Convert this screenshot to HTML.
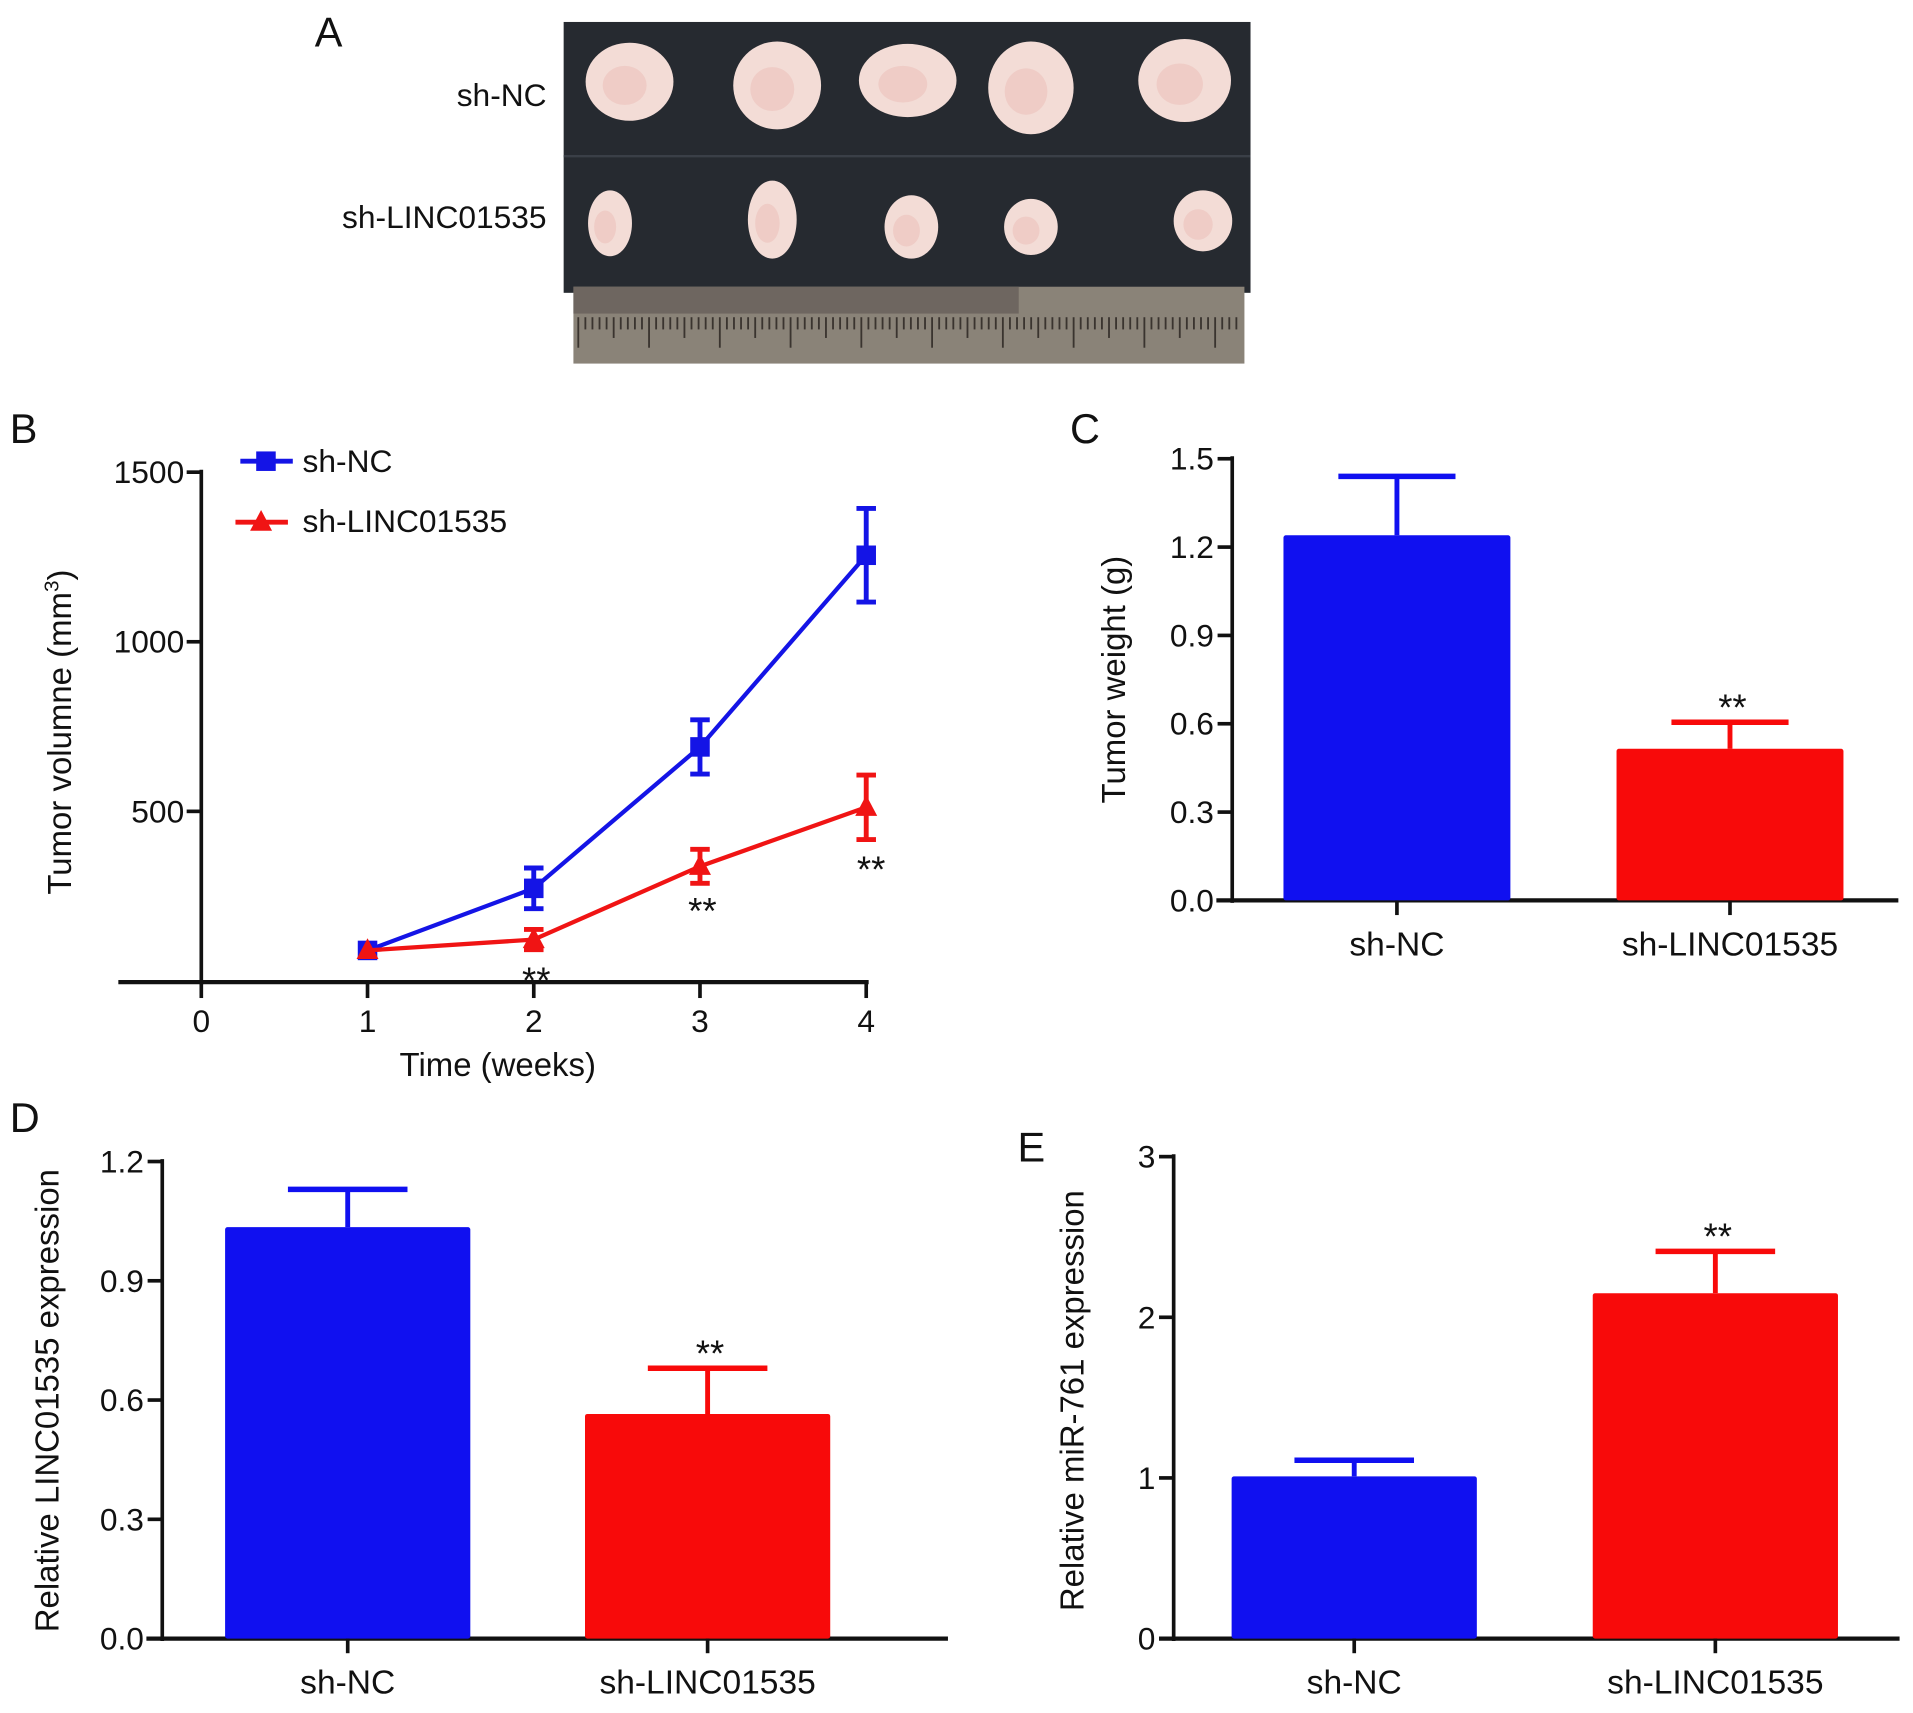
<!DOCTYPE html>
<html><head><meta charset="utf-8"><style>
html,body{margin:0;padding:0;background:#fff}
svg{display:block}
text{font-family:"Liberation Sans",Arial,sans-serif;fill:#111}
</style></head><body>
<svg id="fig" width="1913" height="1713" viewBox="0 0 1568 1404" preserveAspectRatio="none" xmlns="http://www.w3.org/2000/svg">
<g id="panelA">
  <text x="258" y="38" font-size="34">A</text>
  <text x="448" y="87" font-size="26" text-anchor="end">sh-NC</text>
  <text x="448" y="187" font-size="26" text-anchor="end">sh-LINC01535</text>
  <rect x="462" y="18" width="563" height="222" fill="#262a30"/>
  <line x1="462" y1="128" x2="1025" y2="128" stroke="#3a3f47" stroke-width="2"/>
  <rect x="470" y="235" width="550" height="63" fill="#8a8378"/>
  <rect x="470" y="235" width="365" height="22" fill="#6e6660"/>
  <g id="rulerTicks" stroke="#3a342f" stroke-width="1.5"></g>
  <g id="tumors"></g>
</g>
<g id="panelB"></g>
<g id="panelC"></g>
<g id="panelD"></g>
<g id="panelE"></g>
</svg>
<script>
// ---- Panel B data ----
const weeks = [1, 2, 3, 4];
const volNC = [90, 273, 690, 1255];
const volNCErr = [0, 60, 80, 138];
const volSh = [90, 122, 338, 512];
const volShErr = [0, 30, 50, 95];
const volTicks = [500, 1000, 1500];
const weekTicks = [0, 1, 2, 3, 4];
// ---- Panel C data ----
const groups = ["sh-NC", "sh-LINC01535"];
const weightVals = [1.24, 0.515];
const weightErr = [0.20, 0.09];
const weightTicks = ["0.0", "0.3", "0.6", "0.9", "1.2", "1.5"];
// ---- Panel D data ----
const lincVals = [1.035, 0.565];
const lincErr = [0.095, 0.115];
const lincTicks = ["0.0", "0.3", "0.6", "0.9", "1.2"];
// ---- Panel E data ----
const mirVals = [1.01, 2.15];
const mirErr = [0.10, 0.26];
const mirTicks = ["0", "1", "2", "3"];

const NS = "http://www.w3.org/2000/svg";
function mk(parent, tag, attrs, txt) {
  const e = document.createElementNS(NS, tag);
  for (const k in attrs) e.setAttribute(k, attrs[k]);
  if (txt !== undefined) e.textContent = txt;
  parent.appendChild(e);
  return e;
}

// Panel A tumors + ruler
(function () {
  const rt = document.getElementById('rulerTicks');
  for (let x = 474; x < 1018; x += 5.8) {
    const i = Math.round((x - 474) / 5.8);
    mk(rt, 'line', {x1: x, y1: 260, x2: x, y2: i % 10 === 0 ? 285 : (i % 5 === 0 ? 277 : 270)});
  }
  const tg = document.getElementById('tumors');
  const top = [[516, 67, 36, 32], [637, 70, 36, 36], [744, 66, 40, 30], [845, 72, 35, 38], [971, 66, 38, 34]];
  const bot = [[500, 183, 18, 27], [633, 180, 20, 32], [747, 186, 22, 26], [845, 186, 22, 23], [986, 181, 24, 25]];
  top.concat(bot).forEach((t) => {
    const el = mk(tg, 'ellipse', {cx: t[0], cy: t[1], rx: t[2], ry: t[3], fill: '#f3dcd6'});
    
    
    mk(tg, 'ellipse', {cx: t[0] - 4, cy: t[1] + 3, rx: t[2] * 0.5, ry: t[3] * 0.5, fill: '#ecbcb6', opacity: 0.5});
  });
})();

// Panel B
(function () {
  const g = document.getElementById('panelB');
  const x0 = 165, xs = (710 - 165) / 4;
  const y0 = 804, ys = (804 - 387) / 1500;
  const X = v => x0 + v * xs, Y = v => y0 - v * ys;
  mk(g, 'text', {x: 8, y: 363, 'font-size': 34,  }, 'B');
  mk(g, 'line', {x1: x0, y1: 385, x2: x0, y2: 807, stroke: '#111', 'stroke-width': 3,  });
  mk(g, 'line', {x1: 97, y1: 805, x2: 712, y2: 805, stroke: '#111', 'stroke-width': 3.5,  });
  volTicks.forEach(v => {
    mk(g, 'line', {x1: x0 - 12, y1: Y(v), x2: x0, y2: Y(v), stroke: '#111', 'stroke-width': 3});
    const t = mk(g, 'text', {x: x0 - 14, y: Y(v) + 9, 'font-size': 26, 'text-anchor': 'end'}, String(v));
    
    
  });
  weekTicks.forEach(v => {
    mk(g, 'line', {x1: X(v), y1: 805, x2: X(v), y2: 818, stroke: '#111', 'stroke-width': 3});
    const t = mk(g, 'text', {x: X(v), y: 846, 'font-size': 26, 'text-anchor': 'middle'}, String(v));
    
    
  });
  mk(g, 'text', {x: 408, y: 882, 'font-size': 27, 'text-anchor': 'middle',  }, 'Time (weeks)');
  const yt = mk(g, 'text', {x: 0, y: 0, 'font-size': 27, 'text-anchor': 'middle', transform: 'translate(58,600) rotate(-90)',  }, 'Tumor volumne (mm');
  mk(yt, 'tspan', {'font-size': 17, dy: -10}, '3');
  mk(yt, 'tspan', {dy: 10}, ')');
  function series(vals, errs, color, marker, name) {
    const pts = weeks.map((w, i) => X(w) + ',' + Y(vals[i])).join(' ');
    const pl = mk(g, 'polyline', {points: pts, fill: 'none', stroke: color, 'stroke-width': 3.5});
    
    
    weeks.forEach((w, i) => {
      const cx = X(w), cy = Y(vals[i]);
      if (errs[i] > 0) {
        const hi = Y(vals[i] + errs[i]), lo = Y(vals[i] - errs[i]);
        mk(g, 'line', {x1: cx, y1: hi, x2: cx, y2: lo, stroke: color, 'stroke-width': 4});
        mk(g, 'line', {x1: cx - 8, y1: hi, x2: cx + 8, y2: hi, stroke: color, 'stroke-width': 4});
        mk(g, 'line', {x1: cx - 8, y1: lo, x2: cx + 8, y2: lo, stroke: color, 'stroke-width': 4});
      }
      let m;
      if (marker === 'sq') m = mk(g, 'rect', {x: cx - 8, y: cy - 8, width: 16, height: 16, fill: color});
      else m = mk(g, 'polygon', {points: `${cx},${cy - 10} ${cx - 9},${cy + 7} ${cx + 9},${cy + 7}`, fill: color});
      
      
    });
  }
  series(volNC, volNCErr, '#1414e6', 'sq', 'sh-nc');
  series(volSh, volShErr, '#f01414', 'tri', 'sh-linc01535');
  [[X(2), 814], [X(3), 757], [X(4), 723]].forEach(p => {
    const s = mk(g, 'text', {x: p[0] + (p[1] === 723 ? 4 : 2), y: p[1], 'font-size': 30, 'text-anchor': 'middle'}, '**');
    
    
  });
  const lg = mk(g, 'g', { });
  mk(lg, 'line', {x1: 197, y1: 378, x2: 240, y2: 378, stroke: '#1414e6', 'stroke-width': 4});
  mk(lg, 'rect', {x: 210, y: 370, width: 16, height: 16, fill: '#1414e6'});
  mk(lg, 'text', {x: 248, y: 387, 'font-size': 26}, 'sh-NC');
  mk(lg, 'line', {x1: 193, y1: 428, x2: 236, y2: 428, stroke: '#f01414', 'stroke-width': 4});
  mk(lg, 'polygon', {points: '214,418 205,435 223,435', fill: '#f01414'});
  mk(lg, 'text', {x: 248, y: 436, 'font-size': 26}, 'sh-LINC01535');
})();

function barPanel(id, cfg) {
  const g = document.getElementById(id);
  const Y = v => cfg.y0 - v / cfg.max * (cfg.y0 - cfg.yTop);
  mk(g, 'text', {x: cfg.lx, y: cfg.ly, 'font-size': 34,  }, cfg.label);
  mk(g, 'line', {x1: cfg.ax, y1: cfg.yTop - 2, x2: cfg.ax, y2: cfg.y0 + 2, stroke: '#111', 'stroke-width': 3,  });
  mk(g, 'line', {x1: cfg.xl, y1: cfg.y0, x2: cfg.xr, y2: cfg.y0, stroke: '#111', 'stroke-width': 3.5,  });
  cfg.ticks.forEach(t => {
    const v = parseFloat(t);
    mk(g, 'line', {x1: cfg.ax - 12, y1: Y(v), x2: cfg.ax, y2: Y(v), stroke: '#111', 'stroke-width': 3});
    const tl = mk(g, 'text', {x: cfg.ax - 15, y: Y(v) + 9, 'font-size': 26, 'text-anchor': 'end'}, t);
    
    
  });
  const colors = ['#1010f0', '#f80a0a'];
  cfg.vals.forEach((v, i) => {
    const cx = cfg.cx[i], w = cfg.bw;
    const top = Y(v), et = Y(v + cfg.err[i]);
    mk(g, 'line', {x1: cx, y1: et, x2: cx, y2: top, stroke: colors[i], 'stroke-width': 4});
    mk(g, 'line', {x1: cx - cfg.cap, y1: et, x2: cx + cfg.cap, y2: et, stroke: colors[i], 'stroke-width': 4.5});
    const b = mk(g, 'rect', {x: cx - w / 2, y: top, width: w, height: cfg.y0 - top, fill: colors[i], rx: 2});
    
    
    mk(g, 'line', {x1: cx, y1: cfg.y0, x2: cx, y2: cfg.y0 + 12, stroke: '#111', 'stroke-width': 3});
    const cl = mk(g, 'text', {x: cx, y: cfg.y0 + 45, 'font-size': 27.5, 'text-anchor': 'middle'}, groups[i]);
    
    
  });
  const s = mk(g, 'text', {x: cfg.cx[1] + 2, y: Y(cfg.vals[1] + cfg.err[1]) - 2, 'font-size': 30, 'text-anchor': 'middle'}, '**');
  
  
  mk(g, 'text', {x: 0, y: 0, 'font-size': 27, 'text-anchor': 'middle', transform: `translate(${cfg.tx},${cfg.ty}) rotate(-90)`,  }, cfg.title);
}
barPanel('panelC', {label: 'C', lx: 877, ly: 363, ax: 1010, yTop: 376, y0: 738, max: 1.5, xl: 997, xr: 1556,
  ticks: weightTicks, vals: weightVals, err: weightErr, cx: [1145, 1418], bw: 186, cap: 48,
  title: 'Tumor weight (g)', tx: 922, ty: 557});
barPanel('panelD', {label: 'D', lx: 8, ly: 928, ax: 133, yTop: 952, y0: 1343, max: 1.2, xl: 120, xr: 777,
  ticks: lincTicks, vals: lincVals, err: lincErr, cx: [285, 580], bw: 201, cap: 49,
  title: 'Relative LINC01535 expression', tx: 48, ty: 1148});
barPanel('panelE', {label: 'E', lx: 834, ly: 952, ax: 962, yTop: 948, y0: 1343, max: 3, xl: 950, xr: 1557,
  ticks: mirTicks, vals: mirVals, err: mirErr, cx: [1110, 1406], bw: 201, cap: 49,
  title: 'Relative miR-761 expression', tx: 888, ty: 1148});
</script>
</body></html>
